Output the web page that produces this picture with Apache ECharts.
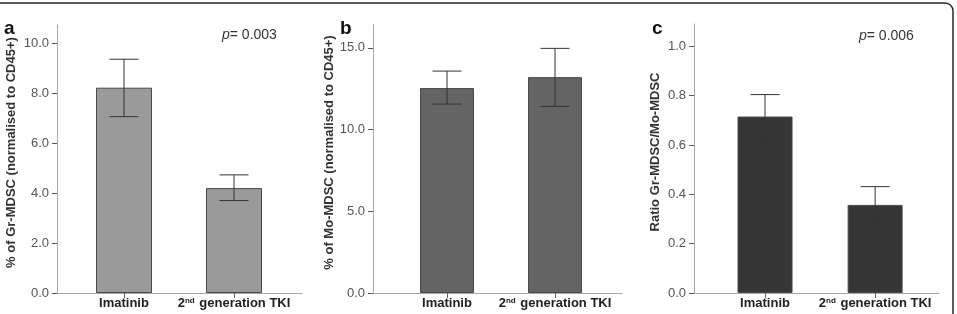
<!DOCTYPE html>
<html>
<head>
<meta charset="utf-8">
<script src="https://cdn.jsdelivr.net/npm/echarts@6/dist/echarts.min.js"></script>
<style>
html,body{margin:0;padding:0;background:#fff;}
#chart{width:957px;height:314px;}
</style>
</head>
<body>
<div id="chart"></div>
<script>
// ---- data ----
const categories = ['Imatinib', '2nd generation TKI'];
const grMeans = [8.22, 4.20];
const grLow = [7.06, 3.70];
const grHigh = [9.36, 4.73];
const moMeans = [12.54, 13.21];
const moLow = [11.56, 11.42];
const moHigh = [13.58, 14.97];
const ratioMeans = [0.715, 0.357];
const ratioLow = [0.624, 0.281];
const ratioHigh = [0.804, 0.431];
const grTicks = [0, 2, 4, 6, 8, 10];
const moTicks = [0, 5, 10, 15];
const ratioTicks = [0, 0.2, 0.4, 0.6, 0.8, 1.0];
const panelLetters = ['a', 'b', 'c'];
const yTitles = ['% of Gr-MDSC (normalised to CD45+)', '% of Mo-MDSC (normalised to CD45+)', 'Ratio Gr-MDSC/Mo-MDSC'];
const pValues = ['0.003', null, '0.006'];

// ---- layout (positions/styles) ----
const panels = [
  {means: grMeans, low: grLow, high: grHigh, ticks: grTicks, left: 57, width: 245, top: 25, bottom: 293, ymax: 10.73, xmin: 0.391, xmax: 2.618, barW: 56, color: '#9a9a9a', nameGap: 39, letter: [4, 19], p: [222, 28]},
  {means: moMeans, low: moLow, high: moHigh, ticks: moTicks, left: 373, width: 249, top: 25, bottom: 293, ymax: 16.4, xmin: 0.315, xmax: 2.62, barW: 54, color: '#646464', nameGap: 31, letter: [340, 19], p: null},
  {means: ratioMeans, low: ratioLow, high: ratioHigh, ticks: ratioTicks, left: 694, width: 245, top: 24, bottom: 293, ymax: 1.09, xmin: 0.355, xmax: 2.58, barW: 55, color: '#353535', nameGap: 32, letter: [652, 19], p: [859, 29]}
];

const chart = echarts.init(document.getElementById('chart'), null, {renderer: 'canvas'});
const FONT = 'Liberation Sans, Arial, sans-serif';

const grids = [], xAxes = [], yAxes = [], series = [], graphics = [];
panels.forEach((pn, i) => {
  grids.push({left: pn.left, top: pn.top, width: pn.width, height: pn.bottom - pn.top, containLabel: false});
  xAxes.push({
    type: 'value', gridIndex: i, min: pn.xmin, max: pn.xmax,
    axisLine: {show: true, lineStyle: {color: '#a8a8a8', width: 1}},
    axisTick: {show: true, customValues: [1, 2], length: 5, lineStyle: {color: '#666'}},
    axisLabel: {
      customValues: [1, 2], margin: 4, color: '#222', fontFamily: FONT, fontWeight: 'bold', fontSize: 13,
      formatter: v => Math.round(v) === 1 ? categories[0] : '2{sup|nd} generation TKI',
      rich: {sup: {fontSize: 8, fontWeight: 'bold', fontFamily: FONT, color: '#222', verticalAlign: 'top', padding: [0, 1, 5, 0]}}
    },
    splitLine: {show: false}
  });
  yAxes.push({
    type: 'value', gridIndex: i, min: 0, max: pn.ymax,
    name: yTitles[i], nameLocation: 'middle', nameGap: pn.nameGap,
    nameTextStyle: {fontFamily: FONT, fontWeight: 'bold', fontSize: 13, color: '#333', padding: [0, 0, 0, 13]},
    axisLine: {show: true, lineStyle: {color: '#a8a8a8', width: 1}},
    axisTick: {show: true, customValues: pn.ticks, length: 5, lineStyle: {color: '#555'}},
    axisLabel: {customValues: pn.ticks, margin: 8, color: '#555', fontFamily: FONT, fontSize: 13, formatter: v => v.toFixed(1)},
    splitLine: {show: false}
  });
  series.push({
    type: 'bar', xAxisIndex: i, yAxisIndex: i, barWidth: pn.barW,
    itemStyle: {color: pn.color, borderColor: '#4a4a4a', borderWidth: 1},
    data: pn.means.map((v, k) => [k + 1, v]),
    z: 2
  });
  series.push({
    type: 'custom', xAxisIndex: i, yAxisIndex: i, z: 5,
    data: pn.low.map((v, k) => [k + 1, v, pn.high[k]]),
    encode: {x: 0, y: [1, 2]},
    renderItem: function (params, api) {
      const hi = api.coord([api.value(0), api.value(2)]);
      const lo = api.coord([api.value(0), api.value(1)]);
      const hw = 14.5;
      const st = {stroke: '#333', lineWidth: 1};
      return {type: 'group', children: [
        {type: 'line', shape: {x1: hi[0], y1: hi[1], x2: lo[0], y2: lo[1]}, style: st},
        {type: 'line', shape: {x1: hi[0] - hw, y1: hi[1], x2: hi[0] + hw, y2: hi[1]}, style: st},
        {type: 'line', shape: {x1: lo[0] - hw, y1: lo[1], x2: lo[0] + hw, y2: lo[1]}, style: st}
      ]};
    }
  });
  graphics.push({type: 'text', left: pn.letter[0], top: pn.letter[1],
    style: {text: panelLetters[i], fontFamily: FONT, fontWeight: 'bold', fontSize: 19, fill: '#111'}});
  if (pValues[i] && pn.p) {
    graphics.push({type: 'text', left: pn.p[0], top: pn.p[1],
      style: {text: '{it|p}= ' + pValues[i], fontFamily: FONT, fontSize: 14, fill: '#333',
        rich: {it: {fontStyle: 'italic', fontFamily: FONT, fontSize: 14, fill: '#333'}}}});
  }
});
graphics.push({type: 'rect', shape: {x: -20, y: 3, width: 973, height: 400, r: 8},
  style: {fill: 'none', stroke: '#2a2a2a', lineWidth: 1.5}, silent: true});

chart.setOption({
  animation: false,
  backgroundColor: '#fff',
  grid: grids, xAxis: xAxes, yAxis: yAxes, series: series, graphic: graphics
});
</script>
</body>
</html>
